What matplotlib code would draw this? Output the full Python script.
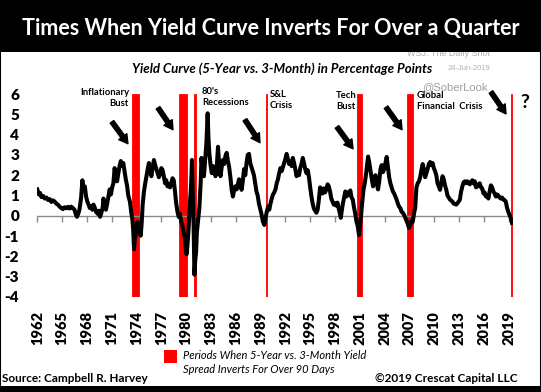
"""
5年-3ヶ月の利回りスプレッド（逆イールド）の推移を描く。
赤い帯は逆イールドが90日以上続いた期間。
"""
import matplotlib
matplotlib.use("Agg")
import matplotlib.pyplot as plt
from matplotlib.patches import Rectangle

plt.rcParams['font.family'] = ['Lato', 'DejaVu Sans']
plt.rcParams['axes.unicode_minus'] = False

# 年（小数）とスプレッド（%ポイント） ---------------------------------
years = [
    1962.0, 1962.2, 1962.35, 1962.5, 1962.7, 1962.9, 1963.1, 1963.3, 1963.5, 1963.7,
    1963.9, 1964.1, 1964.3, 1964.5, 1964.7, 1964.9, 1965.1, 1965.3, 1965.5, 1965.7,
    1965.9, 1966.1, 1966.3, 1966.5, 1966.7, 1966.8, 1966.95, 1967.1, 1967.3, 1967.45,
    1967.6, 1967.75, 1967.9, 1968.05, 1968.2, 1968.35, 1968.5, 1968.65, 1968.8, 1968.95,
    1969.1, 1969.3, 1969.45, 1969.6, 1969.75, 1969.9, 1970.0, 1970.15, 1970.3, 1970.45,
    1970.6, 1970.75, 1970.9, 1971.05, 1971.2, 1971.35, 1971.5, 1971.65, 1971.8, 1971.95,
    1972.1, 1972.25, 1972.4, 1972.55, 1972.7, 1972.85, 1973.0, 1973.2, 1973.35, 1973.5,
    1973.6, 1973.7, 1973.8, 1973.95, 1974.1, 1974.2, 1974.35, 1974.5, 1974.6, 1974.75,
    1974.9, 1975.05, 1975.2, 1975.35, 1975.5, 1975.65, 1975.8, 1975.95, 1976.1, 1976.25,
    1976.4, 1976.55, 1976.7, 1976.85, 1977.0, 1977.15, 1977.3, 1977.45, 1977.6, 1977.75,
    1977.9, 1978.05, 1978.2, 1978.35, 1978.5, 1978.65, 1978.8, 1978.95, 1979.1, 1979.25,
    1979.4, 1979.55, 1979.7, 1979.85, 1979.95, 1980.05, 1980.15, 1980.3, 1980.45, 1980.6,
    1980.7, 1980.8, 1980.9, 1981.0, 1981.1, 1981.2, 1981.3, 1981.45, 1981.6, 1981.75,
    1981.85, 1982.0, 1982.15, 1982.3, 1982.45, 1982.6, 1982.7, 1982.8, 1982.95, 1983.1,
    1983.25, 1983.4, 1983.55, 1983.7, 1983.85, 1984.0, 1984.15, 1984.3, 1984.45, 1984.6,
    1984.75, 1984.9, 1985.05, 1985.2, 1985.35, 1985.5, 1985.65, 1985.8, 1985.95, 1986.1,
    1986.25, 1986.4, 1986.55, 1986.7, 1986.85, 1987.0, 1987.15, 1987.3, 1987.45, 1987.6,
    1987.75, 1987.9, 1988.05, 1988.2, 1988.35, 1988.5, 1988.65, 1988.8, 1988.93, 1989.1,
    1989.3, 1989.45, 1989.6, 1989.75, 1989.9, 1990.05, 1990.2, 1990.35, 1990.5, 1990.65,
    1990.8, 1990.95, 1991.1, 1991.25, 1991.4, 1991.55, 1991.7, 1991.85, 1992.0, 1992.15,
    1992.3, 1992.45, 1992.6, 1992.75, 1992.9, 1993.05, 1993.2, 1993.35, 1993.5, 1993.65,
    1993.8, 1993.95, 1994.1, 1994.25, 1994.4, 1994.55, 1994.7, 1994.85, 1995.0, 1995.15,
    1995.3, 1995.45, 1995.6, 1995.75, 1995.9, 1996.05, 1996.2, 1996.35, 1996.5, 1996.65,
    1996.8, 1996.95, 1997.1, 1997.25, 1997.4, 1997.55, 1997.7, 1997.85, 1998.0, 1998.15,
    1998.3, 1998.45, 1998.6, 1998.7, 1998.8, 1998.95, 1999.1, 1999.25, 1999.4, 1999.55,
    1999.7, 1999.85, 2000.0, 2000.15, 2000.3, 2000.45, 2000.6, 2000.75, 2000.9, 2001.05,
    2001.15, 2001.3, 2001.45, 2001.6, 2001.75, 2001.9, 2002.0, 2002.15, 2002.3, 2002.45,
    2002.6, 2002.75, 2002.9, 2003.05, 2003.2, 2003.35, 2003.5, 2003.65, 2003.8, 2003.95,
    2004.1, 2004.25, 2004.4, 2004.55, 2004.7, 2004.85, 2005.0, 2005.15, 2005.3, 2005.45,
    2005.6, 2005.75, 2005.9, 2006.05, 2006.2, 2006.35, 2006.5, 2006.65, 2006.8, 2006.95,
    2007.1, 2007.25, 2007.4, 2007.55, 2007.7, 2007.85, 2008.0, 2008.15, 2008.3, 2008.45,
    2008.6, 2008.75, 2008.9, 2009.05, 2009.2, 2009.35, 2009.5, 2009.65, 2009.8, 2009.95,
    2010.1, 2010.25, 2010.4, 2010.55, 2010.7, 2010.85, 2011.0, 2011.15, 2011.3, 2011.45,
    2011.6, 2011.75, 2011.9, 2012.05, 2012.2, 2012.35, 2012.5, 2012.65, 2012.8, 2012.95,
    2013.1, 2013.25, 2013.4, 2013.55, 2013.7, 2013.85, 2014.0, 2014.15, 2014.3, 2014.45,
    2014.6, 2014.75, 2014.9, 2015.05, 2015.2, 2015.35, 2015.5, 2015.65, 2015.8, 2015.95,
    2016.1, 2016.25, 2016.4, 2016.55, 2016.7, 2016.85, 2017.0, 2017.15, 2017.3, 2017.45,
    2017.6, 2017.75, 2017.9, 2018.05, 2018.2, 2018.35, 2018.5, 2018.65, 2018.8, 2018.95,
    2019.1, 2019.25, 2019.4,
]
spread = [
    1.30, 1.05, 1.12, 0.92, 0.98, 0.85, 0.90, 0.78, 0.82, 0.68,
    0.76, 0.70, 0.60, 0.55, 0.45, 0.38, 0.33, 0.42, 0.37, 0.44,
    0.36, 0.45, 0.38, 0.30, 0.02, -0.05, 0.10, 0.30, 0.90, 1.75,
    1.30, 1.45, 0.95, 0.70, 0.55, 0.38, 0.48, 0.30, 0.55, 0.40,
    0.20, 0.10, 0.25, -0.05, 0.15, 0.40, 0.85, 0.55, 0.30, 0.60,
    0.95, 1.30, 1.05, 1.40, 1.60, 2.35, 1.95, 1.70, 2.10, 2.45,
    2.70, 2.45, 2.60, 2.20, 1.80, 1.50, 1.00, 0.70, 0.20, -0.20,
    -0.70, -1.65, -1.10, -0.80, -0.30, -0.45, -0.70, -0.98, -0.50, 0.60,
    1.20, 1.60, 1.95, 2.30, 2.60, 2.20, 1.95, 2.40, 2.75, 2.50,
    2.30, 2.10, 1.90, 2.05, 2.35, 2.25, 1.95, 1.60, 1.75, 1.45,
    1.55, 1.40, 1.60, 1.85, 1.75, 1.20, 0.60, 0.20, -0.05, 0.10,
    -0.30, -0.45, -0.80, -1.10, -1.60, -1.90, -1.50, -0.60, 0.60, 1.50,
    2.75, 1.20, -0.50, -2.90, -2.20, -1.80, -0.80, -0.20, 0.40, 1.60,
    2.85, 2.20, 1.95, 2.80, 3.60, 5.05, 3.80, 3.10, 2.50, 2.10,
    2.45, 2.30, 1.95, 2.40, 3.40, 2.50, 1.95, 2.40, 2.75, 2.55,
    2.95, 3.10, 2.70, 2.40, 1.90, 1.30, 0.95, 1.25, 1.45, 1.30,
    1.55, 1.80, 1.65, 1.28, 1.70, 2.30, 2.00, 2.60, 3.00, 3.05,
    2.60, 2.40, 2.20, 2.00, 1.60, 1.20, 1.00, 0.60, 0.38, 0.10,
    -0.30, -0.45, -0.10, 0.20, 0.45, 0.30, 0.60, 0.85, 1.05, 1.15,
    1.30, 1.60, 1.80, 2.10, 2.35, 2.20, 2.40, 2.60, 2.80, 3.05,
    2.80, 2.55, 2.70, 2.45, 2.85, 2.60, 2.30, 1.95, 2.15, 2.00,
    2.35, 2.55, 2.85, 2.60, 2.30, 2.10, 2.25, 1.90, 1.40, 0.95,
    0.60, 0.35, 0.25, 0.15, 0.30, 0.80, 1.40, 1.20, 1.10, 1.35,
    1.15, 1.30, 1.55, 1.45, 1.20, 0.85, 0.70, 0.55, 0.62, 0.50,
    0.65, 0.35, 0.10, -0.10, 0.20, 0.60, 0.90, 1.20, 0.95, 1.15,
    1.05, 1.25, 0.90, 0.80, 0.40, 0.10, -0.30, -0.50, -0.95, -0.40,
    0.00, 0.70, 1.30, 1.60, 2.05, 2.60, 2.92, 2.60, 2.20, 1.80,
    1.45, 1.90, 2.00, 1.60, 1.30, 1.70, 2.30, 2.50, 2.15, 2.30,
    2.60, 2.90, 2.40, 1.90, 1.60, 1.40, 1.20, 1.10, 0.95, 0.80,
    0.60, 0.45, 0.38, 0.20, 0.15, 0.05, -0.10, -0.25, -0.40, -0.60,
    -0.45, -0.25, -0.30, 0.10, 0.40, 1.40, 1.60, 1.70, 1.90, 2.25,
    2.55, 2.30, 1.90, 2.10, 2.30, 2.55, 2.65, 2.50, 2.60, 2.35,
    2.20, 2.00, 1.60, 1.45, 1.28, 1.60, 1.95, 1.80, 1.50, 1.30,
    1.00, 0.90, 0.80, 0.75, 0.70, 0.60, 0.58, 0.55, 0.62, 0.70,
    0.80, 1.20, 1.45, 1.65, 1.70, 1.60, 1.70, 1.65, 1.55, 1.65,
    1.75, 1.60, 1.70, 1.40, 1.45, 1.55, 1.60, 1.40, 1.35, 1.10,
    1.15, 0.95, 1.00, 0.85, 1.20, 1.50, 1.40, 1.20, 1.10, 0.95,
    1.05, 1.00, 0.90, 0.85, 0.90, 0.80, 0.78, 0.70, 0.40, 0.20,
    0.05, -0.10, -0.35,
]

# 逆イールドが90日以上続いた期間（開始, 終了）
inv_start = [1973.50, 1979.17, 1980.98, 1989.60, 2000.62, 2006.67, 2019.25]
inv_end = [1974.34, 1980.14, 1981.22, 1989.72, 2001.23, 2007.47, 2019.40]

xtick_years = list(range(1962, 2020, 3))
ytick_vals = list(range(-4, 7))

# 注記の矢印 (始点の年, 値, 終点の年, 値)
arrows = [
    (1971.03, 4.63, 1972.96, 3.55),
    (1976.60, 5.32, 1978.41, 4.24),
    (1987.11, 4.73, 1988.93, 3.60),
    (1998.24, 4.38, 2000.18, 3.30),
    (2004.17, 5.35, 2006.11, 4.24),
    (2016.86, 6.10, 2018.68, 5.02),
]

W, H = 541, 392


def fx(x):
    return x / W


def fy(y):
    return 1 - y / H


fig = plt.figure(figsize=(W / 100, H / 100), dpi=100)
ax = fig.add_axes([fx(37.3), fy(297), fx(512.8) - fx(37.3), fy(94) - fy(297)])

# 赤い帯（細いものも見えるように縁を赤で描く）
for s, e in zip(inv_start, inv_end):
    ax.axvspan(s, e, facecolor='#ff0000', edgecolor='#ff0000', lw=0.6, zorder=1)

# ゼロ線と目盛
ax.axhline(0, color='#8c8c8c', lw=1.0, zorder=2)
sec = ax.secondary_xaxis(0.4)
sec.set_xticks(xtick_years)
sec.tick_params(length=4, width=1, color='#8c8c8c', labelbottom=False, labeltop=False)
sec.spines['bottom'].set_visible(False)

# スプレッド
ax.plot(years, spread, color='black', lw=2.9, solid_joinstyle='round', zorder=3)

ax.set_xlim(1962.0, 2019.5)
ax.set_ylim(-4, 6)
for sp in ax.spines.values():
    sp.set_visible(False)

ax.set_yticks(ytick_vals)
ax.set_yticklabels([str(v) for v in ytick_vals], fontsize=11, fontweight='heavy')
ax.tick_params(axis='y', length=0, pad=13)
ax.set_xticks(xtick_years)
ax.set_xticklabels([str(v) for v in xtick_years], rotation=90, fontsize=10.5, fontweight='heavy')
ax.tick_params(axis='x', length=0, pad=10)

# 矢印
for x0, y0, x1, y1 in arrows:
    ax.annotate('', xy=(x1, y1), xytext=(x0, y0), annotation_clip=False,
                arrowprops=dict(arrowstyle='simple,head_length=0.7,head_width=0.8,tail_width=0.35',
                                color='black', mutation_scale=9, shrinkA=0, shrinkB=0))

# 注記テキスト
fig.text(fx(129), fy(88), "Inflationary\nBust", ha='right', va='top', fontsize=6.8,
         fontweight='bold', multialignment='right', linespacing=1.3)
fig.text(fx(202), fy(87), "80's\nRecessions", ha='left', va='top', fontsize=6.8,
         fontweight='bold', linespacing=1.3)
fig.text(fx(270), fy(90), "S&L\nCrisis", ha='left', va='top', fontsize=6.8,
         fontweight='bold', linespacing=1.3)
fig.text(fx(346), fy(91), "Tech\nBust", ha='center', va='top', fontsize=6.8,
         fontweight='bold', linespacing=1.3)
fig.text(fx(417), fy(91), "Global\nFinancial  Crisis", ha='left', va='top', fontsize=6.8,
         fontweight='bold', linespacing=1.3)
fig.text(fx(525), fy(102), "?", ha='center', va='center', fontsize=14, fontweight='bold')
fig.text(fx(455), fy(87), "@SoberLook", ha='center', va='center', fontsize=8,
         color='#a0a0a0', family='Liberation Sans')

# タイトル部分
fig.add_artist(Rectangle((0, fy(52)), 1, 52 / H, transform=fig.transFigure,
                         facecolor='black', edgecolor='none', zorder=5))
fig.text(0.5, fy(28), "Times When Yield Curve Inverts For Over a Quarter", ha='center',
         va='center', fontsize=15.5, fontweight='bold', color='white', zorder=6)
fig.text(fx(490), fy(53), "WSJ: The Daily Shot", ha='right', va='center', fontsize=6.5,
         color='#b0b0b0', family='Liberation Sans', zorder=1)
fig.text(fx(432), fy(69), "Yield Curve (5-Year vs. 3-Month) in Percentage Points", ha='right',
         va='center', fontsize=9.5, fontweight='bold', style='italic')
fig.text(fx(490), fy(69), "24-Jun-2019", ha='right', va='center', fontsize=5.5,
         color='#b0b0b0', family='Liberation Sans')

# 凡例
fig.add_artist(Rectangle((fx(164), fy(363)), fx(13), 13 / H, transform=fig.transFigure,
                         facecolor='#ff0000', edgecolor='none'))
fig.text(fx(183), fy(350), "Periods When 5-Year vs. 3-Month Yield\nSpread Inverts For Over 90 Days",
         ha='left', va='top', fontsize=8, style='italic', linespacing=1.35)

# 出典
fig.text(fx(2), fy(378), "Source: Campbell R. Harvey", ha='left', va='center', fontsize=8.5,
         fontweight='bold')
fig.text(fx(518), fy(378), "\u00a92019 Crescat Capital LLC", ha='right', va='center',
         fontsize=8.5, fontweight='bold')

# 下の太線と外枠
fig.add_artist(Rectangle((0, 0), 1, 6 / H, transform=fig.transFigure,
                         facecolor='black', edgecolor='none'))
fig.add_artist(Rectangle((0, 0), 1, 1, transform=fig.transFigure, fill=False,
                         edgecolor='black', lw=1.5))

fig.savefig("out.png", dpi=100)
print('fig.saved')
